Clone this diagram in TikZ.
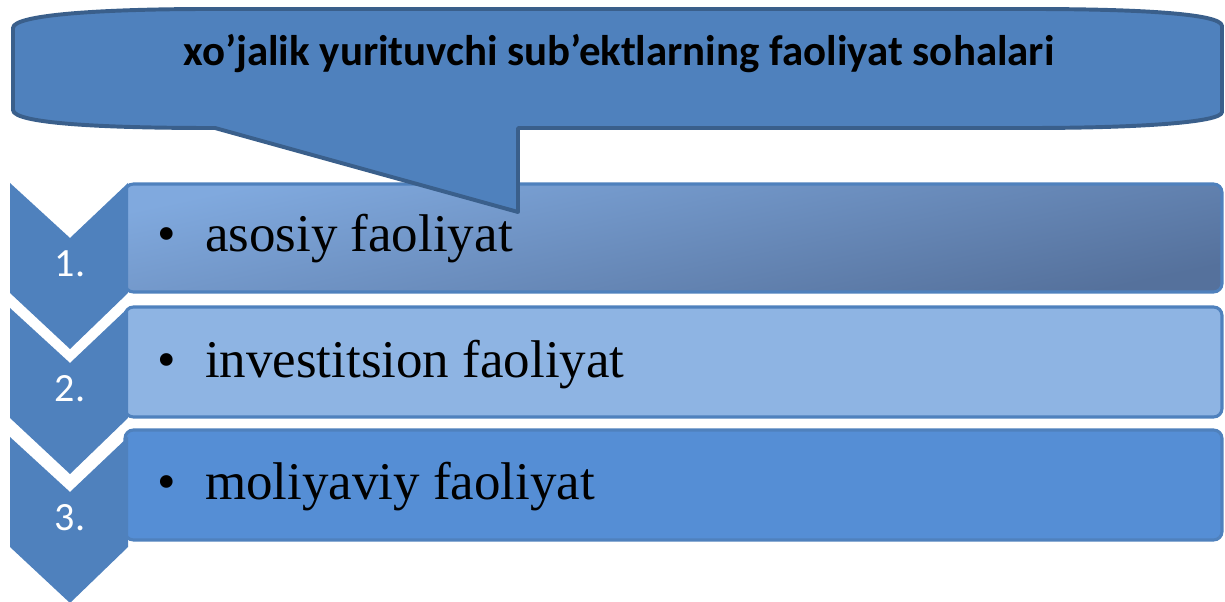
\documentclass[tikz,border=0pt]{standalone}
\usepackage{fontspec}
\setmainfont{Liberation Serif}
\newfontfamily\calibri{Carlito}
\definecolor{calloutfill}{HTML}{4F81BD}
\definecolor{calloutline}{HTML}{3A5F8B}
\definecolor{chevfill}{HTML}{4F81BD}
\definecolor{barline}{HTML}{4F81BD}
\definecolor{bartop}{HTML}{80A9DE}
\definecolor{barbot}{HTML}{55719C}
\definecolor{bartwo}{HTML}{8EB4E3}
\definecolor{barthree}{HTML}{558ED5}
\tikzstyle{every node}+=[inner sep=0pt,outer sep=0pt]
\tikzstyle{callout}=[fill=calloutfill,draw=calloutline,line width=2.8pt,line join=round]
\tikzstyle{bar}=[draw=barline,line width=2.2pt,rounded corners=6pt]
\tikzstyle{chev}=[fill=chevfill]
\tikzstyle{numtext}=[text=white,anchor=base,font=\calibri\fontsize{28.5}{33}\selectfont]
\tikzstyle{itemtext}=[anchor=base west,font=\fontsize{37.7}{44}\selectfont]
\tikzstyle{titletext}=[anchor=base,font=\calibri\bfseries\fontsize{30.5}{36}\selectfont]
\usetikzlibrary{positioning}
\newcommand{\drawchevrons}[1]{
	\foreach \t/\n in {#1}{
		\fill[chev] (10,\t) -- (70,\t+55) -- (128,\t) -- (128,\t+110) -- (70,\t+166) -- (10,\t+110) -- cycle;
		\node[numtext] (num\n) at (70,\t+94) {\n.};
	}
}

\begin{document}
\begin{tikzpicture}[x=0.025cm,y=-0.025cm]
\useasboundingbox (0,0) rectangle (1225,602);
% bars
\shade[bar,top color=bartop,bottom color=barbot,shading angle=12] (125,184) rectangle (1222,292);
\draw[bar,fill=bartwo] (125,307) rectangle (1222,417);
\draw[bar,fill=barthree] (125,430) rectangle (1222,540);
% chevrons 1. 2. 3.
\drawchevrons{183/1,308/2,437/3}
% bullet items
\node[itemtext] (bul1) at (157,252) {\textbullet};
\node[itemtext] (item1) at (205,252) {asosiy faoliyat};
\node[itemtext] (bul2) at (157,378) {\textbullet};
\node[itemtext] (item2) at (205,378) {investitsion faoliyat};
\node[itemtext] (bul3) at (157,500) {\textbullet};
\node[itemtext] (item3) at (205,500) {moliyaviy faoliyat};
% callout
\draw[callout] (13,110) -- (13,28) .. controls (13,14) and (110,9) .. (210,9) -- (1030,9)
	.. controls (1130,9) and (1222,13) .. (1222,26) -- (1222,112)
	.. controls (1222,123) and (1130,128) .. (1030,128) -- (518,128) -- (518,212)
	-- (215,128) -- (210,128) .. controls (110,128) and (13,124) .. (13,110) -- cycle;
\node[titletext] (title) at (619,66) {xo’jalik yurituvchi sub’ektlarning faoliyat sohalari};
\end{tikzpicture}
\end{document}
